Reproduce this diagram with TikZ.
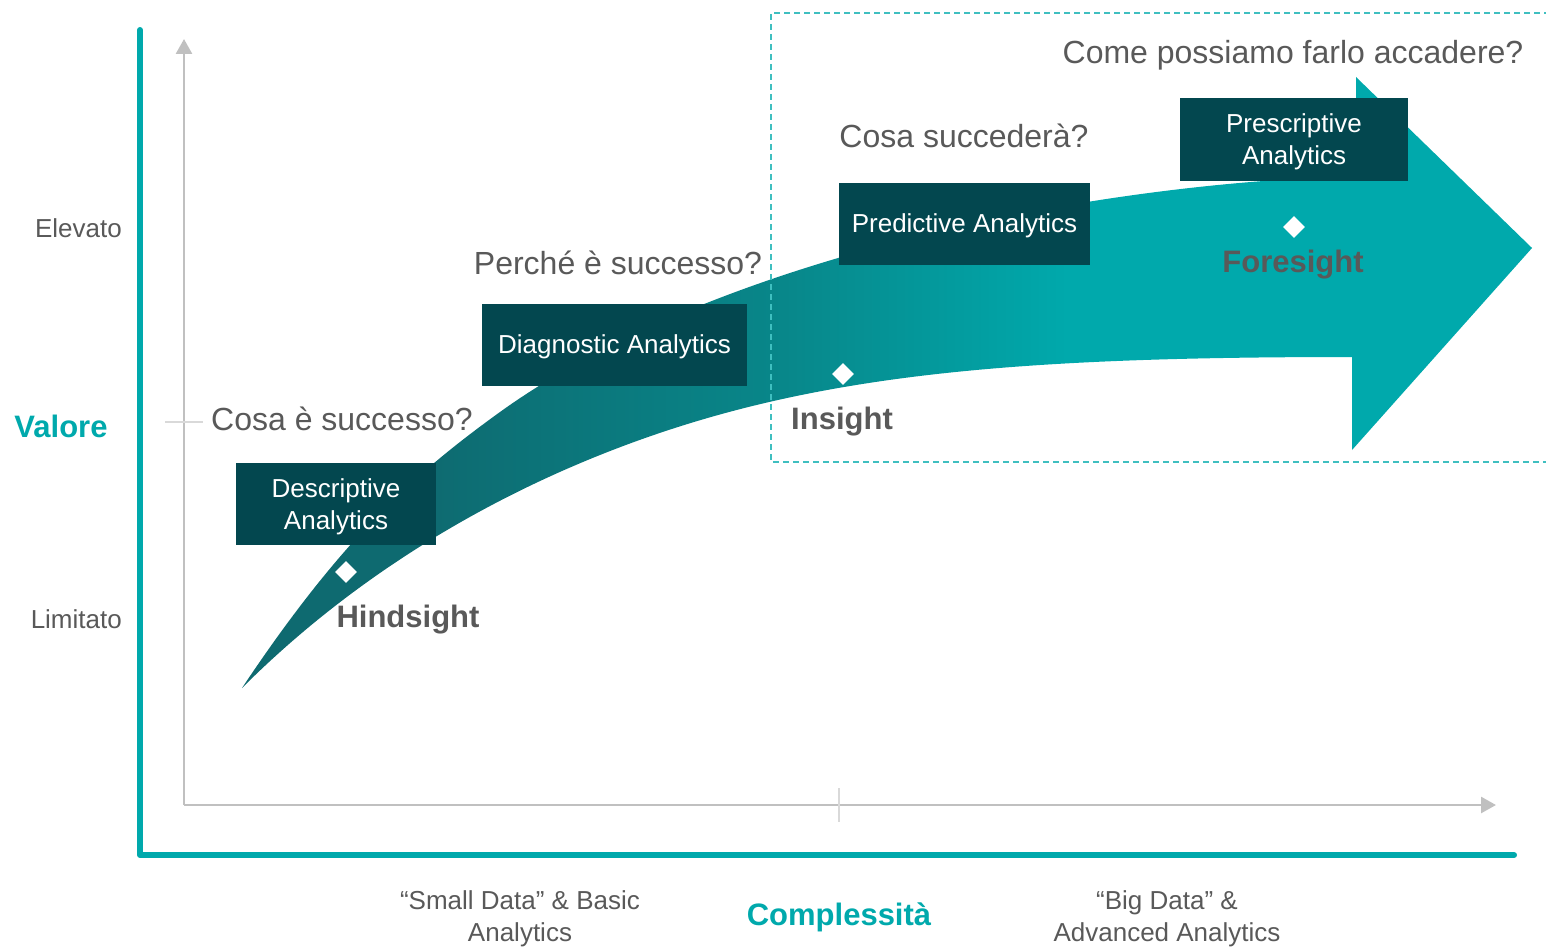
\documentclass[tikz,border=0pt]{standalone}
\usepackage{fontspec}
\setmainfont{Liberation Sans}
\usetikzlibrary{shapes.geometric,arrows.meta}
\definecolor{tealA}{HTML}{00A9AC}
\definecolor{tealDark}{HTML}{0E6A70}
\definecolor{tealMid}{HTML}{08878A}
\definecolor{boxDark}{HTML}{03474F}
\definecolor{txtGray}{HTML}{595959}
\definecolor{axGray}{HTML}{C0C0C0}
\definecolor{tickGray}{HTML}{D9D9D9}
\definecolor{dashTeal}{HTML}{3FBFC0}
\pgfdeclarehorizontalshading{arrowshade}{100bp}{color(0bp)=(tealDark); color(32bp)=(tealDark); color(46bp)=(tealMid); color(57bp)=(tealA); color(100bp)=(tealA)}
\tikzset{
  question/.style={font=\fontsize{32}{38}\selectfont, text=txtGray, inner sep=0, anchor=base},
  stagebox/.style={fill=boxDark, text=white, font=\fontsize{26}{32}\selectfont, align=center, inner sep=0, text depth=-1.5pt, minimum width=#1, minimum height=82},
  sightlabel/.style={font=\fontsize{31}{36}\selectfont\bfseries, text=txtGray, inner sep=0, anchor=base},
  marker/.style={diamond, fill=white, inner sep=0, minimum size=22},
  levellabel/.style={font=\fontsize{26}{32}\selectfont, text=txtGray, inner sep=0, anchor=base east},
  axistitle/.style={font=\fontsize{31}{36}\selectfont\bfseries, text=tealA, inner sep=0, anchor=base},
  bottomlabel/.style={font=\fontsize{26}{32}\selectfont, text=txtGray, inner sep=0, align=center},
  grayaxis/.style={draw=axGray, line width=2.7, -{Triangle[width=16,length=15]}},
  tealaxis/.style={draw=tealA, line width=6, line cap=round, line join=round}
}
\begin{document}
\begin{tikzpicture}[x=1pt,y=-1pt]
\useasboundingbox (0,0) rectangle (1546,947);

% axes
\coordinate (vtop) at (140,30);
\coordinate (corner) at (140,855);
\coordinate (hend) at (1514,855);
\draw[tealaxis] (vtop) -- (corner) -- (hend);

\coordinate (origin) at (184,805);
\coordinate (ytip) at (184,39);
\coordinate (xtip) at (1496,805);
\draw[grayaxis] (origin) -- (ytip);
\draw[grayaxis] (origin) -- (xtip);
\coordinate (yt1) at (165,422);
\coordinate (yt2) at (203,422);
\draw[tickGray, line width=1.5] (yt1) -- (yt2);
\coordinate (xt1) at (839,788);
\coordinate (xt2) at (839,822);
\draw[tickGray, line width=1.5] (xt1) -- (xt2);

% big curved arrow
\coordinate (tail) at (242,688);
\coordinate (up1) at (500,412);
\coordinate (upEnd) at (1356,176);
\coordinate (headTop) at (1356,77);
\coordinate (headTip) at (1532,248);
\coordinate (headBot) at (1352,450);
\coordinate (lowEnd) at (1352,357);
\coordinate (low1) at (600,455);
\shade[shading=arrowshade]
  (tail) .. controls (342,538) and (414,474) .. (up1)
  .. controls (700,268) and (1056,185) .. (upEnd)
  -- (headTop) -- (headTip) -- (headBot) -- (lowEnd)
  .. controls (1002,357) and (800,375) .. (low1)
  .. controls (480,503) and (352,578) .. (tail) -- cycle;

% dashed region
\coordinate (d1) at (1560,13);
\coordinate (d2) at (771,13);
\coordinate (d3) at (771,462);
\coordinate (d4) at (1560,462);
\draw[dashTeal, line width=1.4, dash pattern=on 6 off 4] (d1) -- (d2) -- (d3) -- (d4);

% level labels
\node[levellabel] (elevato) at (122,237) {Elevato};
\node[levellabel] (limitato) at (122,628) {Limitato};
\node[axistitle] (valore) at (61,437) {Valore};
\node[axistitle] (compl) at (839,925) {Complessità};
\node[bottomlabel] (small) at (520,919) {“Small Data” \& Basic\\Analytics};
\node[bottomlabel] (big) at (1167,919) {“Big Data” \&\\Advanced Analytics};

% questions
\node[question, anchor=base west] (q1) at (211,430) {Cosa è successo?};
\node[question] (q2) at (618,274) {Perché è successo?};
\node[question] (q3) at (964,147) {Cosa succederà?};
\node[question] (q4) at (1293,64) {Come possiamo farlo accadere?};

% stage boxes
\node[stagebox=200] (desc) at (336,504) {Descriptive\\Analytics};
\node[stagebox=265] (diag) at (614.5,344.5) {Diagnostic Analytics};
\node[stagebox=251] (pred) at (964.5,223.5) {Predictive Analytics};
\node[stagebox=228] (presc) at (1294,139.5) {Prescriptive\\Analytics};

% markers and labels
\node[marker] (m1) at (346,572) {};
\node[marker] (m2) at (843,374) {};
\node[marker] (m3) at (1294,227) {};
\node[sightlabel] (hind) at (408,627) {Hindsight};
\node[sightlabel] (ins) at (842,429) {Insight};
\node[sightlabel] (fore) at (1293,272) {Foresight};
\end{tikzpicture}
\end{document}
